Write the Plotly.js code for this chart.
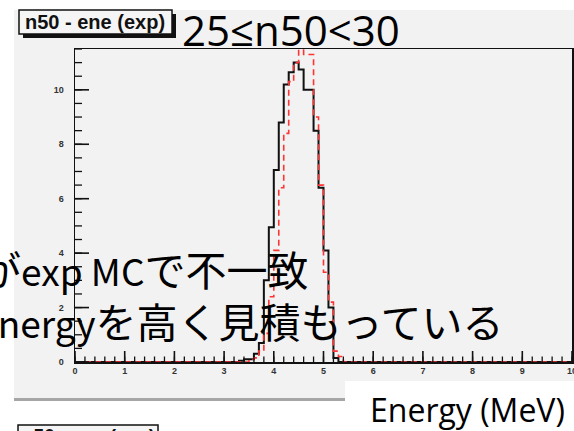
<!DOCTYPE html>
<html>
<head>
<meta charset="utf-8">
<script src="https://cdn.plot.ly/plotly-3.0.1.min.js"></script>
<style>
  html, body { margin: 0; padding: 0; background: #ffffff; overflow: hidden; }
  #chart { width: 574px; height: 431px; }
</style>
</head>
<body>
<div id="chart"></div>
<script>
// Energy spectrum, 0.1 MeV bins, 25 <= n50 < 30
const binWidth = 0.1;

// measured data (black solid histogram): bin lower edges and contents
const expBinLow = [3.3, 3.4, 3.5, 3.6, 3.7, 3.8, 3.9, 4.0, 4.1, 4.2, 4.3, 4.4, 4.5, 4.6, 4.7, 4.8, 4.9, 5.0, 5.1, 5.2];
const expCounts = [0.05, 0.1, 0.1, 0.3, 0.7, 3.0, 4.95, 7.05, 8.8, 10.2, 10.65, 11.0, 10.75, 10.0, 10.0, 8.5, 6.4, 4.1, 2.0, 0.15];

// simulation (red dashed histogram)
const mcBinLow = [3.5, 3.6, 3.7, 3.8, 3.9, 4.0, 4.1, 4.2, 4.3, 4.4, 4.5, 4.6, 4.7, 4.8, 4.9, 5.0, 5.1, 5.2, 5.3];
const mcCounts = [0.1, 0.15, 0.4, 1.05, 2.4, 4.1, 6.4, 8.4, 10.3, 11.0, 12.2, 11.3, 11.3, 9.0, 6.5, 3.3, 2.2, 0.4, 0.2];

const xRange = [0, 10];
const yRange = [0, 11.5];
const xTickVals = [0, 1, 2, 3, 4, 5, 6, 7, 8, 9, 10];
const yTickVals = [0, 2, 4, 6, 8, 10];
const xMinorStep = 0.2;
const yMinorStep = 0.5;

const statTitle = 'n50 - ene (exp)';
const slideTitle = '25≤n50<30';
const noteLine1 = ['が', 'exp MC', 'で不一致'];
const noteLine2 = ['Energy', 'を高く見積もっている'];
const axisNote = 'Energy (MeV)';

// step outline running along zero over the whole axis, like a ROOT histogram
function stepOutline(lows, counts) {
  const x = [xRange[0]];
  const y = [0];
  for (let i = 0; i < lows.length; i++) { x.push(lows[i]); y.push(counts[i]); }
  x.push(lows[lows.length - 1] + binWidth); y.push(0);
  x.push(xRange[1]); y.push(0);
  return { x, y };
}

const expLine = stepOutline(expBinLow, expCounts);
const mcLine = stepOutline(mcBinLow, mcCounts);

// frame of the plotting area in pixels
const W = 574, H = 431;
const L = 75, R = 572, T = 49, B = 362;
const px = v => (v - L) / (R - L);
const py = v => (B - v) / (B - T);
const pxPerX = (R - L) / (xRange[1] - xRange[0]);
const pxPerY = (B - T) / (yRange[1] - yRange[0]);

// ROOT-style inward tick marks, as short segments in axis units
function stepsOver(range, step) {
  const out = [];
  const n = Math.floor((range[1] - range[0]) / step + 1e-9);
  for (let i = 0; i <= n; i++) out.push(+(range[0] + i * step).toFixed(6));
  return out;
}
function xTicks(vals, lenPx) {
  const x = [], y = [];
  const len = lenPx / pxPerY;
  vals.forEach(v => { x.push(v, v, null); y.push(yRange[0], yRange[0] + len, null); });
  return { x, y };
}
function yTicks(vals, lenPx) {
  const x = [], y = [];
  const len = lenPx / pxPerX;
  vals.forEach(v => { x.push(xRange[0], xRange[0] + len, null); y.push(v, v, null); });
  return { x, y };
}
const xMinorTicks = xTicks(stepsOver(xRange, xMinorStep), 5.5);
const xMajorTicks = xTicks(xTickVals, 11);
const yMinorTicks = yTicks(stepsOver(yRange, yMinorStep), 7);
const yMajorTicks = yTicks(yTickVals, 14);

const tickTrace = (t, w) => ({
  type: 'scatter', mode: 'lines', x: t.x, y: t.y, connectgaps: false,
  line: { color: '#111111', width: w }, hoverinfo: 'skip', showlegend: false
});

const traces = [
  {
    type: 'scatter', mode: 'lines', x: expLine.x, y: expLine.y,
    line: { shape: 'hv', color: '#111111', width: 2 },
    hoverinfo: 'skip', showlegend: false
  },
  {
    type: 'scatter', mode: 'lines', x: mcLine.x, y: mcLine.y,
    line: { shape: 'hv', color: '#ff3333', width: 1.6, dash: '6px,4px' },
    hoverinfo: 'skip', showlegend: false
  },
  tickTrace(xMinorTicks, 1.3),
  tickTrace(xMajorTicks, 1.6),
  tickTrace(yMinorTicks, 1.3),
  tickTrace(yMajorTicks, 1.6)
];

const paperRect = (x0, x1, y0, y1, fill, line) => ({
  type: 'rect', xref: 'paper', yref: 'paper',
  x0: px(x0), x1: px(x1), y0: py(y1), y1: py(y0),
  fillcolor: fill, line: line || { width: 0 }
});

const shapes = [
  // white page around the grey canvas, with the canvas bevel shadow
  paperRect(-2, 14, -2, 433, '#ffffff'),
  paperRect(-2, 576, -2, 10, '#ffffff'),
  paperRect(-2, 576, 401, 433, '#ffffff'),
  paperRect(14, 576, 398, 401, '#a6a6a6'),
  // statistics title box with drop shadow
  paperRect(23, 176, 14, 38, '#111111'),
  paperRect(19, 172, 10, 34, '#f5f5f5', { color: '#111111', width: 1.5 }),
  // label box at the bottom right
  paperRect(345, 576, 381, 433, '#ffffff'),
  // next pad's title box peeking in at the bottom
  paperRect(18, 158, 425, 445, '#f5f5f5', { color: '#111111', width: 1.5 })
];

const jpFont = 'Noto Sans CJK JP, sans-serif';
const latin = s => '<span style="font-size:37px">' + s + '</span>';

const annotations = [
  { text: '<b>' + statTitle + '</b>', xref: 'paper', yref: 'paper', x: px(95), y: py(22),
    xanchor: 'center', yanchor: 'middle', showarrow: false,
    font: { family: 'Liberation Sans, Arial, sans-serif', size: 20, color: '#111111' } },
  { text: slideTitle, xref: 'paper', yref: 'paper', x: px(180), y: py(29),
    xanchor: 'left', yanchor: 'middle', showarrow: false,
    font: { family: 'Open Sans, sans-serif', size: 42, color: '#000000' } },
  { text: noteLine1[0] + latin(noteLine1[1]) + noteLine1[2], xref: 'paper', yref: 'paper', x: px(-22), y: py(268),
    xanchor: 'left', yanchor: 'middle', showarrow: false,
    font: { family: jpFont, size: 41, color: '#000000' } },
  { text: latin(noteLine2[0]) + noteLine2[1], xref: 'paper', yref: 'paper', x: px(-26), y: py(320),
    xanchor: 'left', yanchor: 'middle', showarrow: false,
    font: { family: jpFont, size: 41, color: '#000000' } },
  { text: axisNote, xref: 'paper', yref: 'paper', x: px(467), y: py(409),
    xanchor: 'center', yanchor: 'middle', showarrow: false,
    font: { family: 'Open Sans, sans-serif', size: 32, color: '#000000' } },
  { text: '<b>' + statTitle + '</b>', xref: 'paper', yref: 'paper', x: px(88), y: py(435),
    xanchor: 'center', yanchor: 'middle', showarrow: false,
    font: { family: 'Liberation Sans, Arial, sans-serif', size: 19, color: '#111111' } }
];

const tickFont = { family: 'Liberation Sans, Arial, sans-serif', size: 9, color: '#333333', weight: 'bold' };

const layout = {
  width: W, height: H,
  margin: { l: L, r: W - R, t: T, b: H - B, pad: 0 },
  paper_bgcolor: '#f2f2f2',
  plot_bgcolor: '#f2f2f2',
  showlegend: false,
  xaxis: {
    range: xRange, tickmode: 'array', tickvals: xTickVals, ticks: '',
    showline: true, mirror: true, linecolor: '#111111', linewidth: 1.5,
    showgrid: false, zeroline: false, tickfont: tickFont, ticklabeloverflow: 'allow'
  },
  yaxis: {
    range: yRange, tickmode: 'array', tickvals: yTickVals, ticks: '',
    showline: true, mirror: true, linecolor: '#111111', linewidth: 1.5,
    showgrid: false, zeroline: false, tickfont: tickFont, ticklabelstandoff: 8
  },
  shapes: shapes,
  annotations: annotations
};

Plotly.newPlot('chart', traces, layout, { staticPlot: true, displayModeBar: false });
</script>
</body>
</html>
